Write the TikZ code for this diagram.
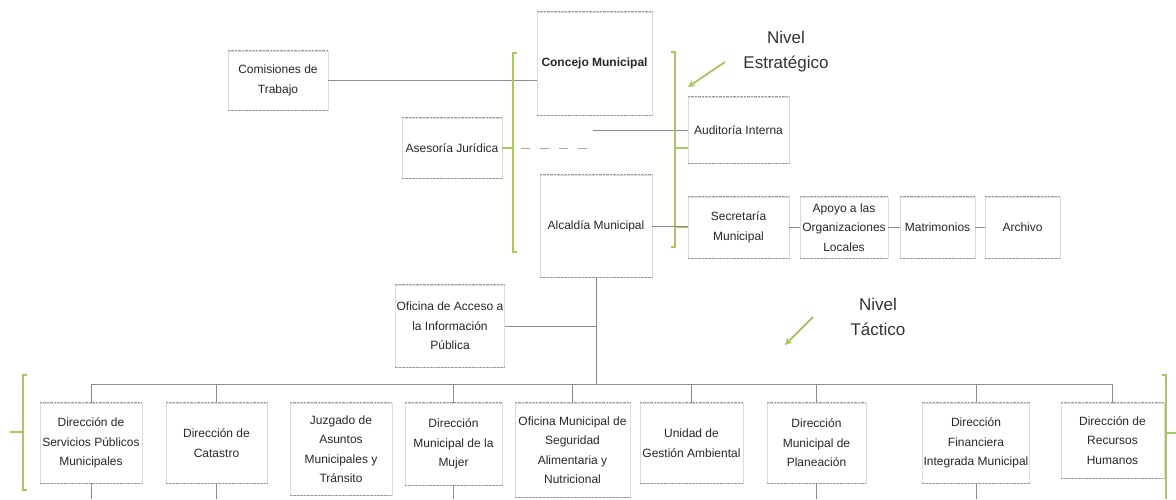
\documentclass[tikz,border=0pt]{standalone}
\usepackage{fontspec}
\setmainfont{Liberation Sans}
\usetikzlibrary{arrows.meta}
\definecolor{brgreen}{RGB}{165,200,95}
\definecolor{txt}{RGB}{40,40,40}
\tikzset{
  orgbox/.style={draw=black!14, line width=0.6pt, inner sep=1pt, align=center, text=txt,
    font=\fontsize{12}{19.5}\selectfont},
  boxedge/.style={draw=black!40, line width=0.6pt, dash pattern=on 2.5pt off 1pt},
  conn/.style={draw=black!45, line width=0.6pt},
  brk/.style={draw=brgreen, line width=1.2pt},
  dashconn/.style={draw=black!35, line width=0.8pt, dash pattern=on 9pt off 10pt},
  garrow/.style={draw=brgreen, line width=1.8pt, -{Stealth[length=7pt,width=7pt]}},
  nivel/.style={align=center, text=black!80, font=\fontsize{17}{25}\selectfont}
}
\begin{document}
\begin{tikzpicture}[x=1pt,y=-1pt]
\fill[white] (0,0) rectangle (1176,499);
\useasboundingbox (0,0) rectangle (1176,499);

% ---- top level boxes
\node[orgbox, minimum width=100pt, minimum height=59pt] (com) at (278,80.5) {Comisiones de\\Trabajo};
\node[orgbox, minimum width=115pt, minimum height=103pt, font=\bfseries\fontsize{12}{19.5}\selectfont] (con) at (594.5,63.5) {Concejo Municipal};
\node[orgbox, minimum width=100pt, minimum height=60pt] (ase) at (452,148) {Asesoría Jurídica};
\node[orgbox, minimum width=101pt, minimum height=66pt] (aud) at (738.5,130) {Auditoría Interna};
\node[orgbox, minimum width=112pt, minimum height=102pt] (alc) at (596,226) {Alcaldía Municipal};
\node[orgbox, minimum width=101pt, minimum height=61pt] (sec) at (738.5,227.5) {Secretaría\\Municipal};
\node[orgbox, minimum width=88pt, minimum height=61pt] (apo) at (844,227.5) {Apoyo a las\\Organizaciones\\Locales};
\node[orgbox, minimum width=75pt, minimum height=61pt] (mat) at (937.5,227.5) {Matrimonios};
\node[orgbox, minimum width=75pt, minimum height=61pt] (arc) at (1022.5,227.5) {Archivo};
\node[orgbox, minimum width=106pt, minimum height=82pt] (ofa) at (450,326) {Oficina de Acceso a\\la Información\\Pública};

% ---- level labels
\node[nivel] (nest) at (786,52) {Nivel\\Estratégico};
\node[nivel] (ntac) at (878,317) {Nivel\\Táctico};
\coordinate (ea1) at (725,62);
\coordinate (ea2) at (688,87);
\coordinate (ta1) at (813,317);
\coordinate (ta2) at (785,345);
\draw[garrow] (ea1) -- (ea2);
\draw[garrow] (ta1) -- (ta2);

% ---- bottom boxes
\node[orgbox, minimum width=102pt, minimum height=80pt] (b1) at (91,443) {Dirección de\\Servicios Públicos\\Municipales};
\node[orgbox, minimum width=101pt, minimum height=80pt] (b2) at (216.5,443) {Dirección de\\Catastro};
\node[orgbox, minimum width=102pt, minimum height=92pt] (b3) at (341,449) {Juzgado de\\Asuntos\\Municipales y\\Tránsito};
\node[orgbox, minimum width=97pt, minimum height=82pt] (b4) at (453.5,444) {Dirección\\Municipal de la\\Mujer};
\node[orgbox, minimum width=115pt, minimum height=94pt] (b5) at (572.5,450) {Oficina Municipal de\\Seguridad\\Alimentaria y\\Nutricional};
\node[orgbox, minimum width=103pt, minimum height=80pt] (b6) at (691.5,443) {Unidad de\\Gestión Ambiental};
\node[orgbox, minimum width=99pt, minimum height=80pt] (b7) at (816.5,443) {Dirección\\Municipal de\\Planeación};
\node[orgbox, minimum width=106pt, minimum height=80pt] (b8) at (976,443) {Dirección\\Financiera\\Integrada Municipal};
\node[orgbox, minimum width=103pt, minimum height=75pt] (b9) at (1112.5,440.5) {Dirección de\\Recursos\\Humanos};

% ---- dotted top and bottom edges of the boxes
\foreach \n in {com,con,ase,aud,alc,sec,apo,mat,arc,ofa,b1,b2,b3,b4,b5,b6,b7,b8,b9}{
  \draw[boxedge] (\n.north west) -- (\n.north east);
  \draw[boxedge] (\n.south west) -- (\n.south east);
}

% ---- top connectors
\draw[conn] (com.east) -- (com.east -| con.west);
\coordinate (lbT) at (517,53);
\coordinate (lbB) at (517,252);
\draw[brk] (lbT) -- ++(-4,0) -- ++(0,199) -- (lbB);
\coordinate (aseEnd) at (592,148);
\coordinate (aseBr) at (513,148);
\draw[brk] (ase.east) -- (aseBr);
\draw[dashconn] ([xshift=8pt]aseBr) -- (aseEnd);
\coordinate (audL) at (593,130);
\draw[conn] (audL) -- (aud.west);
\coordinate (rbT) at (671,52);
\coordinate (rbB) at (671,247);
\draw[brk] (rbT) -- ++(4,0) -- ++(0,195) -- (rbB);
\coordinate (rbM) at (675,148);
\draw[brk] (rbM) -- (rbM -| aud.west);
\draw[conn] (alc.east) -- (alc.east -| sec.west);
\coordinate (rbA) at (675,227.5);
\draw[brk] (rbA) -- (rbA -| sec.west);
\draw[conn] (sec.east) -- (apo.west);
\draw[conn] (apo.east) -- (mat.west);
\draw[conn] (mat.east) -- (arc.west);

% ---- trunk and bus
\coordinate (busL) at (91,384);
\coordinate (busR) at (1112.5,384);
\draw[conn] (alc.south) -- (alc.south |- busL);
\draw[conn] (ofa.east) -- (ofa.east -| alc.south);
\draw[conn] (busL) -- (busR);
\foreach \b in {b1,b2,b4,b5,b6,b7,b8,b9}{
  \draw[conn] (\b.north) -- (\b.north |- busL);
}
\coordinate (bottom) at (0,499);
\foreach \b in {b1,b2,b4,b7,b8}{
  \draw[conn] (\b.south) -- (\b.south |- bottom);
}

% ---- lower brackets
\coordinate (llT) at (27,375);
\coordinate (llB) at (27,490);
\draw[brk] (llT) -- ++(-4,0) -- ++(0,115) -- (llB);
\coordinate (llM) at (23,432);
\coordinate (llO) at (10,432);
\draw[brk] (llO) -- (llM);
\coordinate (rlT) at (1162,375);
\coordinate (rlB) at (1166,499);
\draw[brk] (rlT) -- ++(4,0) -- (rlB);
\coordinate (rlM) at (1166,433);
\coordinate (rlO) at (1176,433);
\draw[brk] (rlM) -- (rlO);
\end{tikzpicture}
\end{document}
